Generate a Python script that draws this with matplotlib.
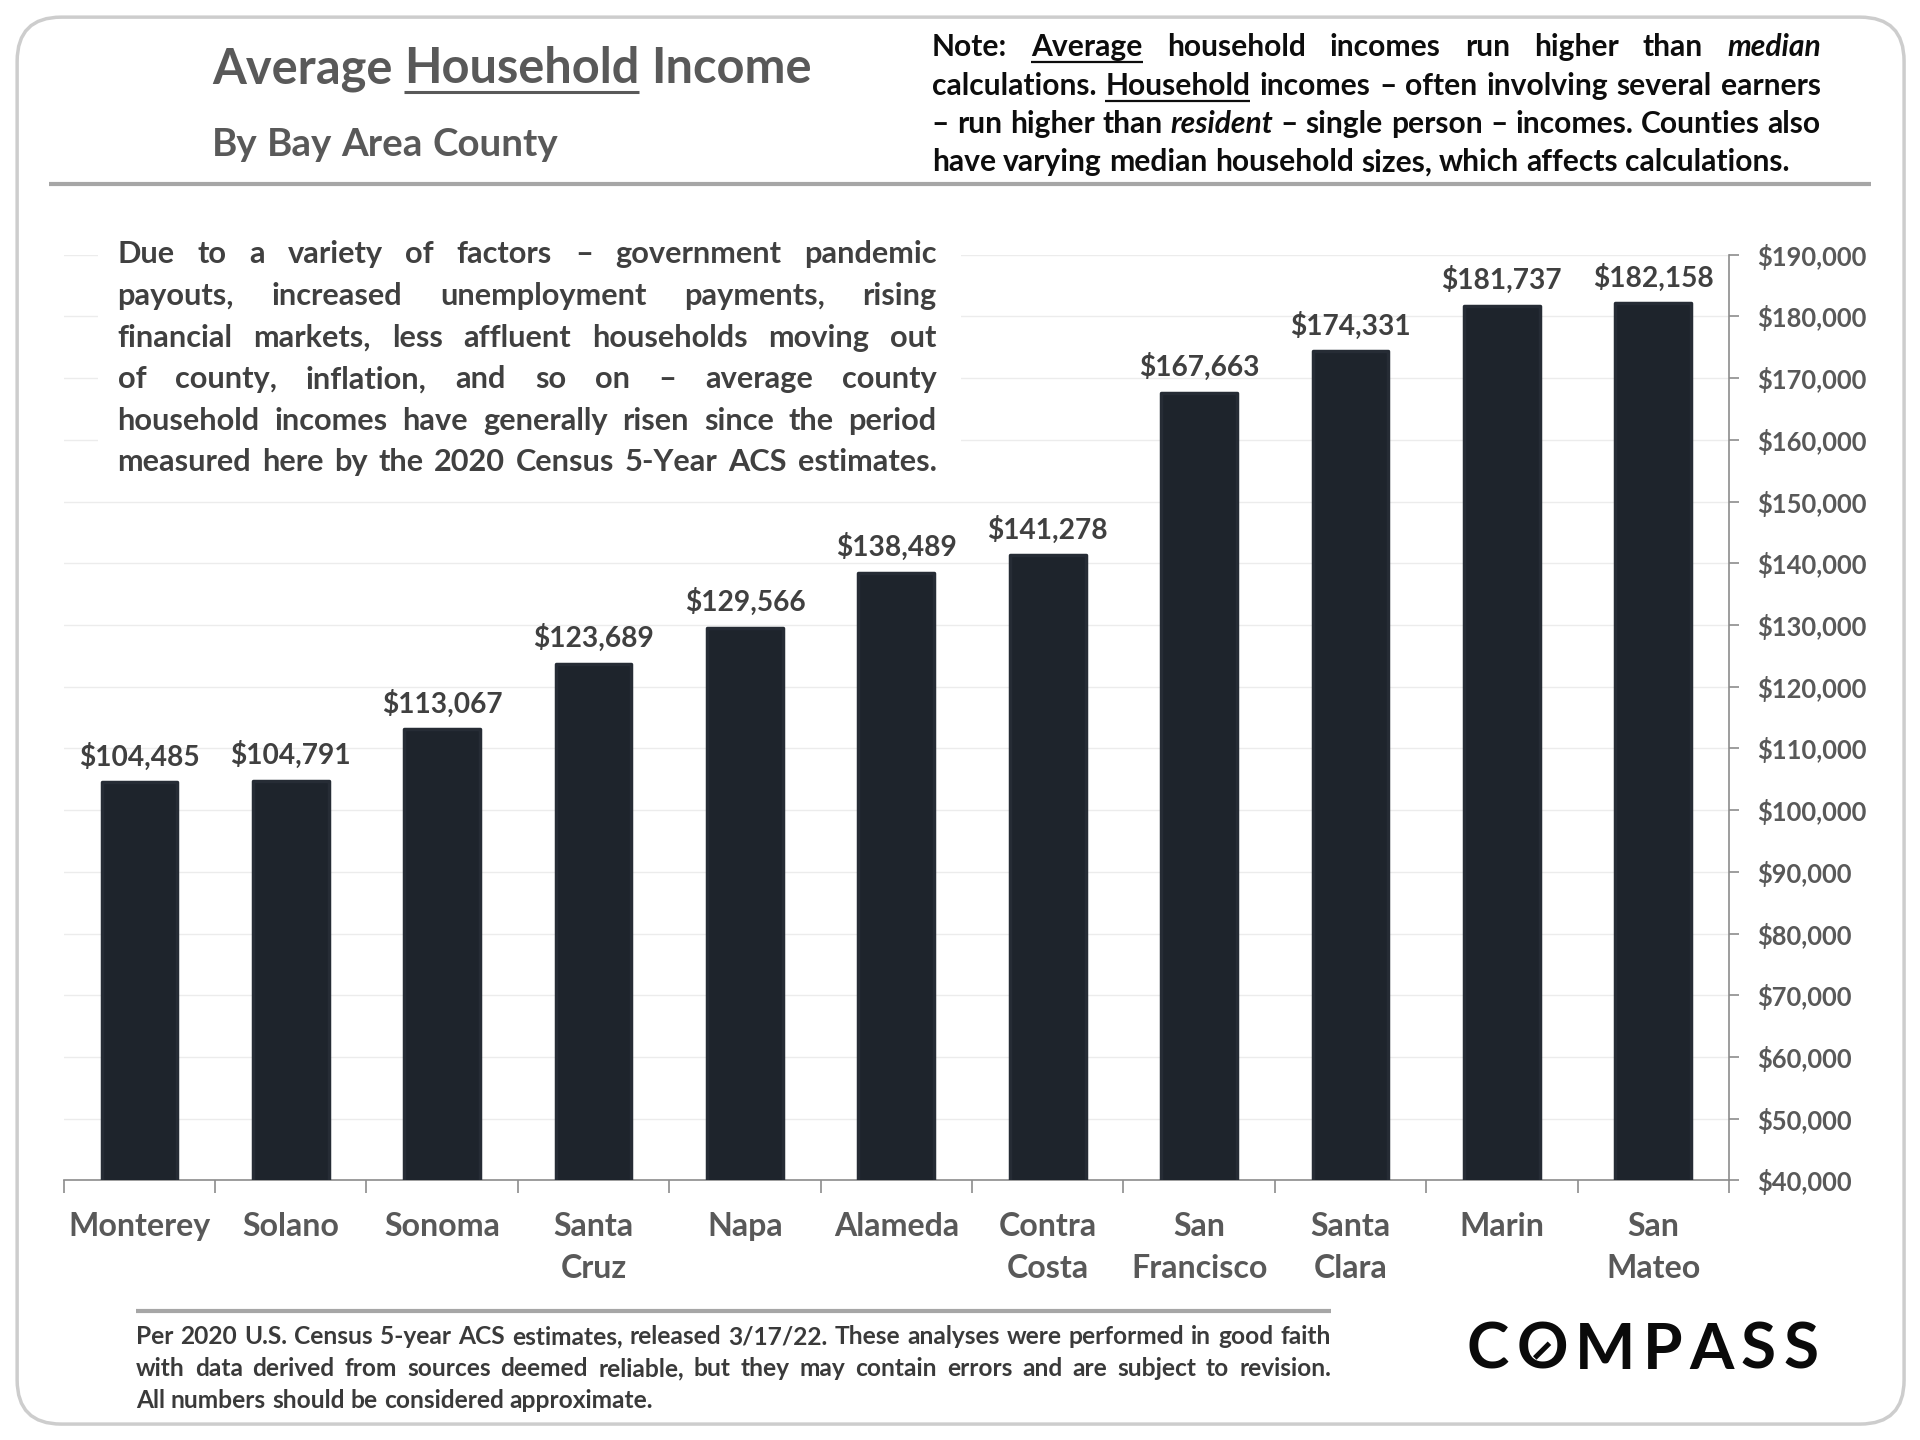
import numpy as np
import matplotlib
matplotlib.use("Agg")
import matplotlib.pyplot as plt
from matplotlib.patches import FancyBboxPatch, Rectangle

# ---------------- data ----------------
counties = ["Monterey", "Solano", "Sonoma", "Santa\nCruz", "Napa", "Alameda",
            "Contra\nCosta", "San\nFrancisco", "Santa\nClara", "Marin", "San\nMateo"]
incomes = [104485, 104791, 113067, 123689, 129566, 138489, 141278,
           167663, 174331, 181737, 182158]
y_ticks = list(range(40000, 190001, 10000))

title_text = "Average _Household_ Income"
subtitle_text = "By Bay Area County"
note_lines = [
    "Note: _Average_ household incomes run higher than *median*",
    "calculations. _Household_ incomes \u2013 often involving several earners",
    "\u2013 run higher than *resident* \u2013 single person \u2013 incomes. Counties also",
    "have varying median household sizes, which affects calculations.",
]
annot_lines = [
    "Due to a variety of factors \u2013 government pandemic",
    "payouts, increased unemployment payments, rising",
    "financial markets, less affluent households moving out",
    "of county, inflation, and so on \u2013 average county",
    "household incomes have generally risen since the period",
    "measured here by the 2020 Census 5-Year ACS estimates.",
]
footer_lines = [
    "Per 2020 U.S. Census 5-year ACS estimates, released 3/17/22. These analyses were performed in good faith",
    "with data derived from sources deemed reliable, but they may contain errors and are subject to revision.",
    "All numbers should be considered approximate.",
]
logo_text = "COMPASS"

# ---------------- setup ----------------
FONT = "Lato"
plt.rcParams["font.family"] = [FONT, "DejaVu Sans"]
plt.rcParams["font.weight"] = "bold"

W, H = 1568.0, 1176.0          # layout units (reference grid)
fig = plt.figure(figsize=(19.2, 14.4), dpi=100, facecolor="white")
SC = W / 1920.0
renderer = fig.canvas.get_renderer()

bg = fig.add_axes([0, 0, 1, 1], zorder=0)
bg.set_xlim(0, W); bg.set_ylim(H, 0); bg.axis("off")
ov = fig.add_axes([0, 0, 1, 1], zorder=2)
ov.set_xlim(0, W); ov.set_ylim(H, 0); ov.axis("off")
ov.patch.set_visible(False)


def width_of(t):
    return t.get_window_extent(renderer=renderer).width * SC


def fit(text, target, **kw):
    t = ov.text(0, 0, text, fontsize=20, **kw)
    w = width_of(t)
    t.remove()
    return 20.0 * target / w


def draw_words(line, x0, x1, yb, fs, color, justify, ul_off=None, ul_lw=1.6):
    toks = line.split(" ")
    items = []
    for tok in toks:
        style = ""
        word = tok
        if len(tok) > 2 and tok.startswith("_") and tok.endswith("_"):
            style, word = "u", tok[1:-1]
        elif len(tok) > 2 and tok.startswith("*") and tok.endswith("*"):
            style, word = "i", tok[1:-1]
        kw = dict(fontsize=fs, color=color, va="baseline", ha="left")
        if style == "i":
            kw["fontstyle"] = "italic"
        t = ov.text(x0, yb, word, **kw)
        items.append((t, style, width_of(t)))
    a = ov.text(0, 0, "n n", fontsize=fs); b = ov.text(0, 0, "nn", fontsize=fs)
    sp = width_of(a) - width_of(b)
    a.remove(); b.remove()
    total = sum(w for _, _, w in items)
    if justify and len(items) > 1:
        gap = (x1 - x0 - total) / (len(items) - 1)
    else:
        gap = sp
    fs_disp = fs * 100 / 72 * SC
    if ul_off is None:
        ul_off = 0.2 * fs_disp
    x = x0
    for t, style, w in items:
        t.set_x(x)
        if style == "u":
            ov.plot([x, x + w], [yb + ul_off, yb + ul_off], color=color, lw=ul_lw,
                    solid_capstyle="butt")
        x += w + gap


# ---------------- frame ----------------
bg.add_patch(FancyBboxPatch((14, 14), 1541, 1149, boxstyle="round,pad=0,rounding_size=36",
                            fc="white", ec="#cdcdcd", lw=2.5))
ov.plot([40, 1528], [150, 150], color="#a6a6a6", lw=3, solid_capstyle="butt")
ov.plot([111, 1087], [1071, 1071], color="#a6a6a6", lw=3, solid_capstyle="butt")

# ---------------- header ----------------
fs_title = fit("Average Household Income", 490)
draw_words(title_text, 173, None, 68, fs_title, "#595959", False, ul_off=7, ul_lw=2.2)
fs_sub = fit(subtitle_text, 282)
draw_words(subtitle_text, 173, None, 127, fs_sub, "#595959", False)

fs_note = fit(note_lines[-1], 701)
for i, ln in enumerate(note_lines):
    draw_words(ln, 761, 1487, 46 + 31.3 * i, fs_note, "#0d0d0d",
               i < len(note_lines) - 1, ul_off=5, ul_lw=1.6)

# ---------------- chart ----------------
fs_val = fit("$104,485", 99)
fs_tick = fit("$190,000", 90)
fs_cat = fit("Monterey", 116)

ax = fig.add_axes([52 / W, 1 - 964 / H, 1360 / W, 756 / H], zorder=1)
ax.patch.set_visible(False)
xpos = np.arange(len(counties))
ax.bar(xpos, incomes, width=0.5, color="#1e242c", edgecolor="#262c35", linewidth=2.5,
       joinstyle="round", zorder=3)
ax.set_xlim(-0.5, len(counties) - 0.5)
ax.set_ylim(y_ticks[0], y_ticks[-1])
ax.set_yticks(y_ticks)
ax.set_yticklabels([f"${v:,}" for v in y_ticks])
ax.yaxis.tick_right()
ax.tick_params(axis="y", direction="out", length=7, width=1.2, color="#8c8c8c",
               pad=13, labelsize=fs_tick, labelcolor="#595959")
ax.set_xticks(xpos)
ax.set_xticklabels(counties, linespacing=1.57)
ax.tick_params(axis="x", which="major", length=0, pad=22.5, labelsize=fs_cat, labelcolor="#595959")
ax.set_xticks(np.arange(-0.5, len(counties)), minor=True)
ax.tick_params(axis="x", which="minor", length=9, width=1.2, color="#8c8c8c", direction="out")
for s in ("top", "left"):
    ax.spines[s].set_visible(False)
for s in ("bottom", "right"):
    ax.spines[s].set_color("#8c8c8c")
    ax.spines[s].set_linewidth(1.2)
ax.yaxis.grid(True, color="#ececec", lw=1.0)
ax.set_axisbelow(True)

for i, v in enumerate(incomes):
    ax.annotate(f"${v:,}", (xpos[i], v), xytext=(0, 12), textcoords="offset points",
                ha="center", va="baseline", fontsize=fs_val, color="#404040", zorder=4)

# ---------------- annotation block ----------------
ov.add_patch(Rectangle((80, 186), 705, 212, fc="white", ec="none", zorder=1))
fs_ann = min(fit(annot_lines[4], 669), fit(annot_lines[5], 650))
for i, ln in enumerate(annot_lines):
    draw_words(ln, 96, 765, 215 + 34 * i, fs_ann, "#404040", True)

# ---------------- footer ----------------
fs_foot = min(fit(footer_lines[0], 965), fit(footer_lines[2], 434))
for i, ln in enumerate(footer_lines):
    draw_words(ln, 111, 1087, 1098 + 26 * i, fs_foot, "#3a3a3a", i < len(footer_lines) - 1)

# ---------------- logo ----------------
fs_logo = 46
letters = []
for ch in logo_text:
    t = ov.text(0, 1118, ch, fontsize=fs_logo, fontweight="bold", color="#0a0a0a",
                va="baseline", ha="left")
    letters.append((t, width_of(t)))
tot = sum(w for _, w in letters)
gap = (1485 - 1198 - tot) / (len(letters) - 1)
x = 1198
for t, w in letters:
    t.set_x(x)
    x += w + gap
tO, wO = letters[1]
bb = tO.get_window_extent(renderer=renderer)
(x0, y0), (x1, y1) = ov.transData.inverted().transform([[bb.x0, bb.y0], [bb.x1, bb.y1]])
cx = (x0 + x1) / 2
ov.plot([cx - 6, cx + 6], [1103 + 6, 1103 - 6], color="#0a0a0a", lw=3.6, solid_capstyle="butt")

fig.savefig("out.png", dpi=100, facecolor="white")
